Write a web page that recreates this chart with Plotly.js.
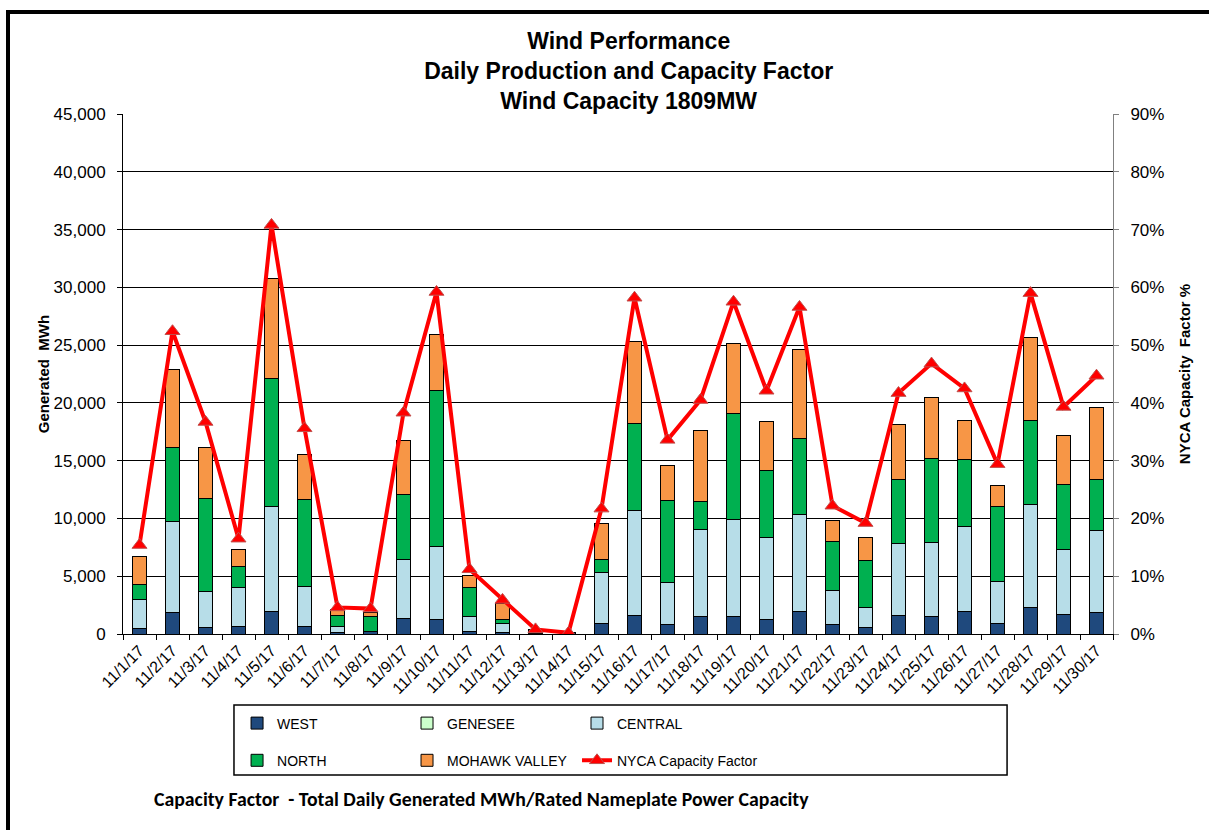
<!DOCTYPE html>
<html>
<head>
<meta charset="utf-8">
<script src="https://cdn.plot.ly/plotly-3.0.1.min.js"></script>
<style>
  html, body { margin: 0; padding: 0; background: #fff; }
  #chart { width: 1209px; height: 830px; position: relative; }
  #frame { position: absolute; left: 6px; top: 10px; width: 1300px; height: 900px;
           border-left: 4px solid #000; border-top: 4px solid #000; pointer-events: none; }
  #wrap { position: relative; width: 1209px; height: 830px; overflow: hidden; }
</style>
</head>
<body>
<div id="wrap">
<div id="chart"></div>
<div id="frame"></div>
</div>
<script>
// ---- data ----
const dates = ["11/1/17","11/2/17","11/3/17","11/4/17","11/5/17","11/6/17","11/7/17","11/8/17","11/9/17","11/10/17",
  "11/11/17","11/12/17","11/13/17","11/14/17","11/15/17","11/16/17","11/17/17","11/18/17","11/19/17","11/20/17",
  "11/21/17","11/22/17","11/23/17","11/24/17","11/25/17","11/26/17","11/27/17","11/28/17","11/29/17","11/30/17"];

const west    = [500,1880,550,690,1990,690,100,200,1360,1270,200,150,50,100,920,1640,780,1500,1500,1270,1990,830,550,1560,1500,1930,920,2280,1730,1880];
const genesee = [0,0,0,0,0,0,0,0,0,0,0,0,0,0,0,0,0,0,0,0,0,0,0,0,0,0,0,0,0,0];
const central = [2500,7840,3170,3350,9030,3460,530,0,5130,6290,1300,770,50,0,4390,9040,3660,7560,8370,7100,8310,2970,1760,6230,6400,7360,3610,8970,5600,7060];
const north   = [1300,6400,7990,1840,11050,7470,960,1300,5600,13470,2540,350,50,0,1180,7550,7100,2450,9170,5820,6630,4190,4090,5590,7300,5820,6490,7210,5570,4390];
const mohawk  = [2450,6780,4410,1450,8710,3930,490,340,4640,4870,1060,1330,250,0,3030,7120,3080,6140,6060,4160,7700,1790,1970,4760,5280,3380,1850,7210,4290,6310];
const capFactor = [0.154,0.524,0.367,0.165,0.708,0.356,0.046,0.044,0.383,0.592,0.112,0.059,0.008,0.002,0.217,0.582,0.336,0.405,0.575,0.421,0.566,0.222,0.192,0.417,0.468,0.425,0.294,0.590,0.393,0.447];

const leftTicks = [0,5000,10000,15000,20000,25000,30000,35000,40000,45000];
const rightTicks = [0,0.1,0.2,0.3,0.4,0.5,0.6,0.7,0.8,0.9];

// ---- styling ----
const FONT = "Liberation Sans, Arial, sans-serif";
const outline = {color: "#000", width: 1};

function barTrace(name, vals, color, legendId) {
  return {type: "bar", name: name, x: dates, y: vals, legendgroup: name,
          marker: {color: color, line: outline}, legend: legendId, hoverinfo: "y+name"};
}

// legend columns: (WEST, NORTH) (GENESEE, MOHAWK VALLEY) (CENTRAL, NYCA Capacity Factor)
const traces = [
  barTrace("WEST", west, "#1F497D", "legend"),
  barTrace("GENESEE", genesee, "#CCFFCC", "legend2"),
  barTrace("CENTRAL", central, "#B7DDE8", "legend3"),
  barTrace("NORTH", north, "#00B050", "legend"),
  barTrace("MOHAWK VALLEY", mohawk, "#F79646", "legend2"),
  {type: "scatter", mode: "lines+markers", name: "NYCA Capacity Factor", x: dates, y: capFactor,
   yaxis: "y2", legend: "legend3", legendgroup: "cf",
   line: {color: "#FF0000", width: 4},
   marker: {symbol: "triangle-up", size: 13, color: "#FF0000", line: {color: "#C0504D", width: 1}}}
];

const legendCommon = {orientation: "v", xanchor: "left", yanchor: "middle", y: -0.2077,
  font: {family: FONT, size: 14, color: "#000"}, bgcolor: "rgba(0,0,0,0)",
  borderwidth: 0, traceorder: "grouped", tracegroupgap: 16};

const layout = {
  width: 1209, height: 830,
  margin: {l: 123, r: 96, t: 114, b: 196},
  paper_bgcolor: "#fff", plot_bgcolor: "#fff",
  font: {family: FONT, color: "#000"},
  barmode: "stack", bargap: 0.57,
  showlegend: true,
  title: {text: "<b>Wind Performance</b><br><b>Daily Production and Capacity Factor</b><br><b>Wind Capacity 1809MW</b>",
          font: {family: FONT, size: 23, color: "#000"}, x: 0.52, xanchor: "center",
          y: 0.941, yanchor: "top", yref: "container"},
  xaxis: {type: "category", range: [-0.5, 29.5], tickangle: -45, tickfont: {family: FONT, size: 16},
          showline: true, linecolor: "#000", linewidth: 1, ticks: "outside", ticklen: 5,
          tickcolor: "#000", tickson: "boundaries", showgrid: false, zeroline: false},
  yaxis: {range: [0, 45000], tickvals: leftTicks, tickformat: ",d", tickfont: {family: FONT, size: 17},
          ticklabelstandoff: 8,
          showline: true, linecolor: "#000", linewidth: 1, ticks: "outside", ticklen: 5, tickcolor: "#000",
          showgrid: true, gridcolor: "#000", gridwidth: 1, zeroline: false,
          title: {text: "<b>Generated&nbsp; MWh</b>", font: {family: FONT, size: 15}, standoff: 0}},
  yaxis2: {range: [0, 0.9], tickvals: rightTicks, tickformat: ".0%", overlaying: "y", side: "right",
          tickfont: {family: FONT, size: 17}, ticklabelstandoff: 8,
          showline: true, linecolor: "#808080", linewidth: 1, ticks: "outside", ticklen: 5, tickcolor: "#808080",
          showgrid: false, zeroline: false,
          title: {text: "<b>NYCA Capacity&nbsp; Factor %</b>", font: {family: FONT, size: 15}, standoff: 16}},
  legend: Object.assign({}, legendCommon, {x: 0.1152}),
  legend2: Object.assign({}, legendCommon, {x: 0.2869}),
  legend3: Object.assign({}, legendCommon, {x: 0.4586}),
  shapes: [{type: "rect", xref: "paper", yref: "paper", x0: 0.1121, x1: 0.893, y0: -0.271, y1: -0.1365,
            line: {color: "#000", width: 1.5}, fillcolor: "rgba(0,0,0,0)", layer: "below"}],
  annotations: [{xref: "paper", yref: "paper", x: 0.0293, y: -0.317, xanchor: "left", yanchor: "middle",
                 showarrow: false, text: "<b>Capacity Factor&nbsp; - Total Daily Generated MWh/Rated Nameplate Power Capacity</b>",
                 font: {family: "Carlito, Lato, Liberation Sans, sans-serif", size: 19.8, color: "#000"}}]
};

Plotly.newPlot("chart", traces, layout, {displayModeBar: false, staticPlot: true});
</script>
</body>
</html>
